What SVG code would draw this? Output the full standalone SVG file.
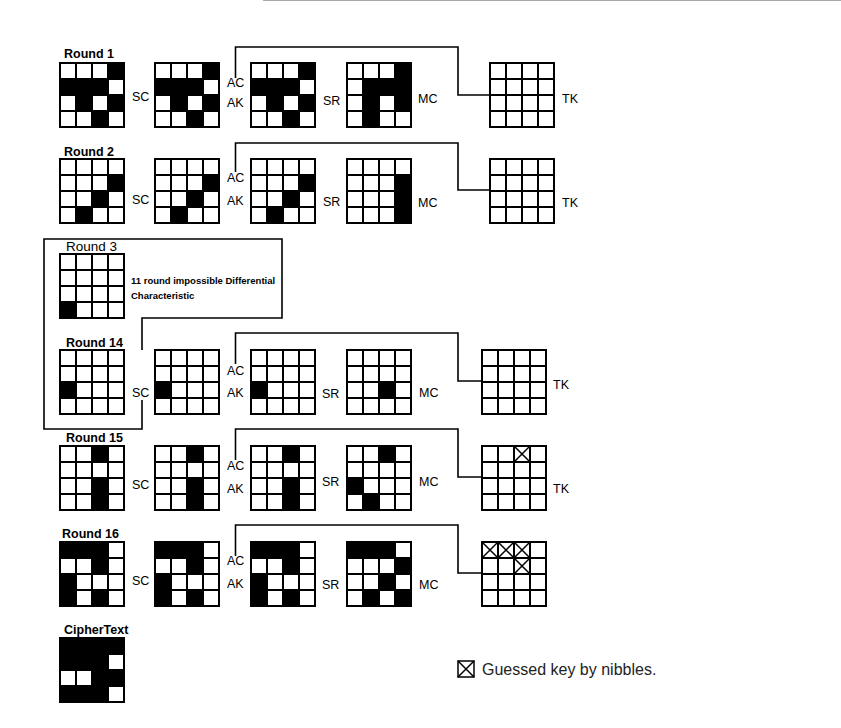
<svg xmlns="http://www.w3.org/2000/svg" xmlns:xlink="http://www.w3.org/1999/xlink" width="841" height="728" viewBox="0 0 841 728">
<style>
.b{fill:#000}
.bg{fill:#fff}
.lbl{font-family:"Liberation Sans",Arial,sans-serif;font-size:12.5px;fill:#000}
.rnd{font-family:"Liberation Sans",Arial,sans-serif;font-size:12.5px;font-weight:bold;fill:#000}
.note{font-family:"Liberation Sans",Arial,sans-serif;font-size:9.5px;font-weight:bold;fill:#000}
.conn{fill:none;stroke:#000;stroke-width:1.6}
.x{fill:none;stroke:#000;stroke-width:1.5}
</style>
<defs>
<g id="grid"><rect x="0" y="0" width="64" height="64" fill="none" stroke="#000" stroke-width="2"/><path d="M16 0V64M32 0V64M48 0V64M0 16H64M0 32H64M0 48H64" stroke="#000" stroke-width="2" fill="none"/></g>
<path id="xm" d="M0 0L16 16M16 0L0 16" class="x"/>
</defs>
<rect width="841" height="728" fill="#fff"/>
<line x1="263" y1="0.5" x2="841" y2="0.5" stroke="#aaa" stroke-width="1"/>

<g id="connectors">
<path class="conn" d="M235.5 78V47H458V95H490"/>
<path class="conn" d="M235.5 172V143H458V190H490"/>
<path class="conn" d="M142 350V318H282V239H44V429H142V400"/>
<path class="conn" d="M235.5 364V333H458V381H482"/>
<path class="conn" d="M235.5 460V429H458V477H482"/>
<path class="conn" d="M235.5 556V525H458V573H482"/>
</g>

<!-- Round 1 -->
<g id="round1">
<text class="rnd" x="64" y="58">Round 1</text>
<g id="r1-s1" transform="translate(60,63)"><rect class="bg" width="64" height="64"/><rect class="b" x="48" y="0" width="16" height="16"/><rect class="b" x="0" y="16" width="48" height="16"/><rect class="b" x="16" y="32" width="16" height="16"/><rect class="b" x="48" y="32" width="16" height="16"/><rect class="b" x="32" y="48" width="16" height="16"/><use xlink:href="#grid"/></g>
<g id="r1-s2" transform="translate(155,63)"><rect class="bg" width="64" height="64"/><rect class="b" x="48" y="0" width="16" height="16"/><rect class="b" x="0" y="16" width="48" height="16"/><rect class="b" x="16" y="32" width="16" height="16"/><rect class="b" x="48" y="32" width="16" height="16"/><rect class="b" x="32" y="48" width="16" height="16"/><use xlink:href="#grid"/></g>
<g id="r1-s3" transform="translate(251,63)"><rect class="bg" width="64" height="64"/><rect class="b" x="48" y="0" width="16" height="16"/><rect class="b" x="0" y="16" width="48" height="16"/><rect class="b" x="16" y="32" width="16" height="16"/><rect class="b" x="48" y="32" width="16" height="16"/><rect class="b" x="32" y="48" width="16" height="16"/><use xlink:href="#grid"/></g>
<g id="r1-s4" transform="translate(347,63)"><rect class="bg" width="64" height="64"/><rect class="b" x="48" y="0" width="16" height="16"/><rect class="b" x="16" y="16" width="48" height="16"/><rect class="b" x="16" y="32" width="16" height="16"/><rect class="b" x="48" y="32" width="16" height="16"/><rect class="b" x="16" y="48" width="16" height="16"/><use xlink:href="#grid"/></g>
<g id="r1-tk" transform="translate(490,63)"><rect class="bg" width="64" height="64"/><use xlink:href="#grid"/></g>
<text class="lbl" x="132" y="101">SC</text>
<text class="lbl" x="227" y="87">AC</text>
<text class="lbl" x="227" y="107">AK</text>
<text class="lbl" x="323" y="105">SR</text>
<text class="lbl" x="418" y="103">MC</text>
<text class="lbl" x="562" y="103">TK</text>
</g>

<!-- Round 2 -->
<g id="round2">
<text class="rnd" x="64" y="156">Round 2</text>
<g id="r2-s1" transform="translate(60,159)"><rect class="bg" width="64" height="64"/><rect class="b" x="48" y="16" width="16" height="16"/><rect class="b" x="32" y="32" width="16" height="16"/><rect class="b" x="16" y="48" width="16" height="16"/><use xlink:href="#grid"/></g>
<g id="r2-s2" transform="translate(155,159)"><rect class="bg" width="64" height="64"/><rect class="b" x="48" y="16" width="16" height="16"/><rect class="b" x="32" y="32" width="16" height="16"/><rect class="b" x="16" y="48" width="16" height="16"/><use xlink:href="#grid"/></g>
<g id="r2-s3" transform="translate(251,159)"><rect class="bg" width="64" height="64"/><rect class="b" x="48" y="16" width="16" height="16"/><rect class="b" x="32" y="32" width="16" height="16"/><rect class="b" x="16" y="48" width="16" height="16"/><use xlink:href="#grid"/></g>
<g id="r2-s4" transform="translate(347,159)"><rect class="bg" width="64" height="64"/><rect class="b" x="48" y="16" width="16" height="48"/><use xlink:href="#grid"/></g>
<g id="r2-tk" transform="translate(490,159)"><rect class="bg" width="64" height="64"/><use xlink:href="#grid"/></g>
<text class="lbl" x="132" y="204">SC</text>
<text class="lbl" x="227" y="182">AC</text>
<text class="lbl" x="227" y="205">AK</text>
<text class="lbl" x="323" y="206">SR</text>
<text class="lbl" x="418" y="207">MC</text>
<text class="lbl" x="562" y="207">TK</text>
</g>

<!-- Round 3 -->
<g id="round3">
<text x="66" y="251" style="font-family:'Liberation Sans',Arial,sans-serif;font-size:13.5px;fill:#000">Round 3</text>
<g id="r3-s1" transform="translate(60,254)"><rect class="bg" width="64" height="64"/><rect class="b" x="0" y="48" width="16" height="16"/><use xlink:href="#grid"/></g>
<text class="note" x="131" y="284">11 round impossible Differential</text>
<text class="note" x="131" y="299">Characteristic</text>
</g>

<!-- Round 14 -->
<g id="round14">
<text class="rnd" x="66" y="347">Round 14</text>
<g id="r14-s1" transform="translate(60,350)"><rect class="bg" width="64" height="64"/><rect class="b" x="0" y="32" width="16" height="16"/><use xlink:href="#grid"/></g>
<g id="r14-s2" transform="translate(155,350)"><rect class="bg" width="64" height="64"/><rect class="b" x="0" y="32" width="16" height="16"/><use xlink:href="#grid"/></g>
<g id="r14-s3" transform="translate(251,350)"><rect class="bg" width="64" height="64"/><rect class="b" x="0" y="32" width="16" height="16"/><use xlink:href="#grid"/></g>
<g id="r14-s4" transform="translate(347,350)"><rect class="bg" width="64" height="64"/><rect class="b" x="32" y="32" width="16" height="16"/><use xlink:href="#grid"/></g>
<g id="r14-tk" transform="translate(482,350)"><rect class="bg" width="64" height="64"/><use xlink:href="#grid"/></g>
<text class="lbl" x="132" y="397">SC</text>
<text class="lbl" x="227" y="375">AC</text>
<text class="lbl" x="227" y="397">AK</text>
<text class="lbl" x="322" y="398">SR</text>
<text class="lbl" x="419" y="397">MC</text>
<text class="lbl" x="553" y="389">TK</text>
</g>

<!-- Round 15 -->
<g id="round15">
<text class="rnd" x="66" y="442">Round 15</text>
<g id="r15-s1" transform="translate(60,446)"><rect class="bg" width="64" height="64"/><rect class="b" x="32" y="0" width="16" height="16"/><rect class="b" x="32" y="32" width="16" height="32"/><use xlink:href="#grid"/></g>
<g id="r15-s2" transform="translate(155,446)"><rect class="bg" width="64" height="64"/><rect class="b" x="32" y="0" width="16" height="16"/><rect class="b" x="32" y="32" width="16" height="32"/><use xlink:href="#grid"/></g>
<g id="r15-s3" transform="translate(251,446)"><rect class="bg" width="64" height="64"/><rect class="b" x="32" y="0" width="16" height="16"/><rect class="b" x="32" y="32" width="16" height="32"/><use xlink:href="#grid"/></g>
<g id="r15-s4" transform="translate(347,446)"><rect class="bg" width="64" height="64"/><rect class="b" x="32" y="0" width="16" height="16"/><rect class="b" x="0" y="32" width="16" height="16"/><rect class="b" x="16" y="48" width="16" height="16"/><use xlink:href="#grid"/></g>
<g id="r15-tk" transform="translate(482,446)"><rect class="bg" width="64" height="64"/><use xlink:href="#xm" x="32" y="0"/><use xlink:href="#grid"/></g>
<text class="lbl" x="132" y="489">SC</text>
<text class="lbl" x="227" y="470">AC</text>
<text class="lbl" x="227" y="493">AK</text>
<text class="lbl" x="322" y="486">SR</text>
<text class="lbl" x="419" y="486">MC</text>
<text class="lbl" x="553" y="493">TK</text>
</g>

<!-- Round 16 -->
<g id="round16">
<text class="rnd" x="62" y="538">Round 16</text>
<g id="r16-s1" transform="translate(60,542)"><rect class="bg" width="64" height="64"/><rect class="b" x="0" y="0" width="48" height="16"/><rect class="b" x="32" y="16" width="16" height="16"/><rect class="b" x="0" y="32" width="16" height="32"/><rect class="b" x="32" y="48" width="16" height="16"/><use xlink:href="#grid"/></g>
<g id="r16-s2" transform="translate(155,542)"><rect class="bg" width="64" height="64"/><rect class="b" x="0" y="0" width="48" height="16"/><rect class="b" x="32" y="16" width="16" height="16"/><rect class="b" x="0" y="32" width="16" height="32"/><rect class="b" x="32" y="48" width="16" height="16"/><use xlink:href="#grid"/></g>
<g id="r16-s3" transform="translate(251,542)"><rect class="bg" width="64" height="64"/><rect class="b" x="0" y="0" width="48" height="16"/><rect class="b" x="32" y="16" width="16" height="16"/><rect class="b" x="0" y="32" width="16" height="32"/><rect class="b" x="32" y="48" width="16" height="16"/><use xlink:href="#grid"/></g>
<g id="r16-s4" transform="translate(347,542)"><rect class="bg" width="64" height="64"/><rect class="b" x="0" y="0" width="48" height="16"/><rect class="b" x="48" y="16" width="16" height="16"/><rect class="b" x="32" y="32" width="16" height="16"/><rect class="b" x="16" y="48" width="16" height="16"/><rect class="b" x="48" y="48" width="16" height="16"/><use xlink:href="#grid"/></g>
<g id="r16-tk" transform="translate(482,542)"><rect class="bg" width="64" height="64"/><use xlink:href="#xm" x="0" y="0"/><use xlink:href="#xm" x="16" y="0"/><use xlink:href="#xm" x="32" y="0"/><use xlink:href="#xm" x="32" y="16"/><use xlink:href="#grid"/></g>
<text class="lbl" x="132" y="585">SC</text>
<text class="lbl" x="227" y="565">AC</text>
<text class="lbl" x="227" y="588">AK</text>
<text class="lbl" x="322" y="589">SR</text>
<text class="lbl" x="419" y="589">MC</text>
</g>

<!-- CipherText -->
<g id="ciphertext">
<text class="rnd" x="64" y="634">CipherText</text>
<g id="ct-s" transform="translate(60,638)"><rect class="bg" width="64" height="64"/><rect class="b" x="0" y="0" width="64" height="16"/><rect class="b" x="0" y="16" width="48" height="16"/><rect class="b" x="32" y="32" width="32" height="16"/><rect class="b" x="0" y="48" width="48" height="16"/><use xlink:href="#grid"/></g>
</g>

<!-- Legend -->
<g id="legend">
<rect x="458" y="661" width="16" height="16" fill="#fff" stroke="#000" stroke-width="1.5"/>
<use xlink:href="#xm" x="458" y="661"/>
<text x="482" y="675" style="font-family:'Liberation Sans',Arial,sans-serif;font-size:16px;fill:#222">Guessed key by nibbles.</text>
</g>
</svg>
